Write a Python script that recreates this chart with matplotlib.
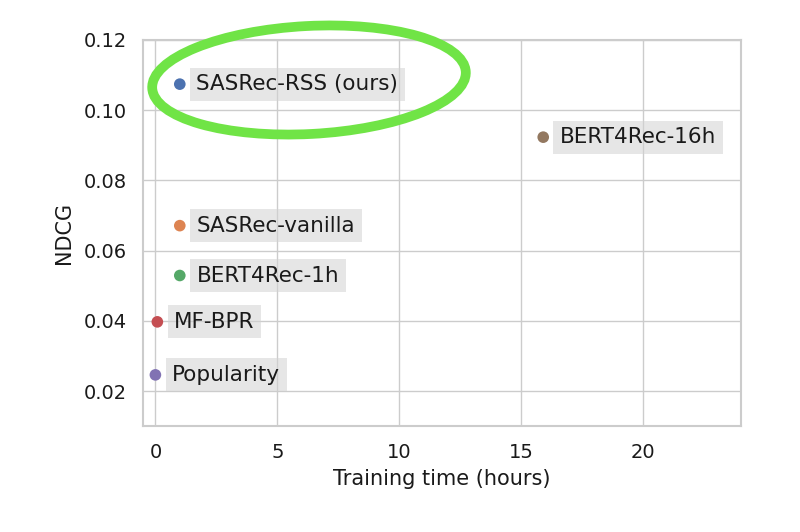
import matplotlib
matplotlib.use('Agg')
import matplotlib.pyplot as plt
import seaborn as sns
from matplotlib.patches import Ellipse

# methods, training time (hours), NDCG
methods = ['SASRec-RSS (ours)', 'SASRec-vanilla', 'BERT4Rec-1h', 'MF-BPR', 'Popularity', 'BERT4Rec-16h']
train_hours = [1.0, 1.0, 1.0, 0.08, 0.0, 15.9]
ndcg = [0.1074, 0.0671, 0.0529, 0.0397, 0.0246, 0.0923]

sns.set_theme(style='whitegrid', palette='deep')
plt.rcParams['font.family'] = ['DejaVu Sans']

fig = plt.figure(figsize=(8, 5.32), dpi=100)
ax = fig.add_axes([0.179, 0.199, 0.747, 0.726])

colors = sns.color_palette('deep', len(methods))
for name, x, y, c in zip(methods, train_hours, ndcg, colors):
    ax.scatter(x, y, color=c, s=70, zorder=3, edgecolor='none')
    ax.annotate(name, (x, y), xytext=(12, 0), textcoords='offset points',
                va='center', ha='left', fontsize=15.5, color='#1a1a1a',
                bbox=dict(boxstyle='square,pad=0.3', facecolor='#d3d3d3',
                          edgecolor='none', alpha=0.55))

ax.set_xlim(-0.5, 24)
ax.set_ylim(0.01, 0.12)
ax.set_xticks([0, 5, 10, 15, 20])
ax.set_yticks([0.02, 0.04, 0.06, 0.08, 0.10, 0.12])
ax.set_yticklabels(['0.02', '0.04', '0.06', '0.08', '0.10', '0.12'])
ax.tick_params(labelsize=14, colors='#1a1a1a')
ax.tick_params(axis='y', pad=6)
ax.tick_params(axis='x', pad=6)
ax.set_xlabel('Training time (hours)', fontsize=15, color='#1a1a1a', labelpad=5)
ax.set_ylabel('NDCG', fontsize=15, color='#1a1a1a', labelpad=7)
for s in ax.spines.values():
    s.set_color('#cccccc')
    s.set_linewidth(1.5)

# hand-drawn highlight around our method
ring = Ellipse((3.09, 5.32 - 0.80), 3.14, 1.08, angle=3, fill=False,
               edgecolor='#70e446', linewidth=7, transform=fig.dpi_scale_trans,
               clip_on=False, zorder=10)
fig.patches.append(ring)

fig.savefig('out.png', dpi=100)
